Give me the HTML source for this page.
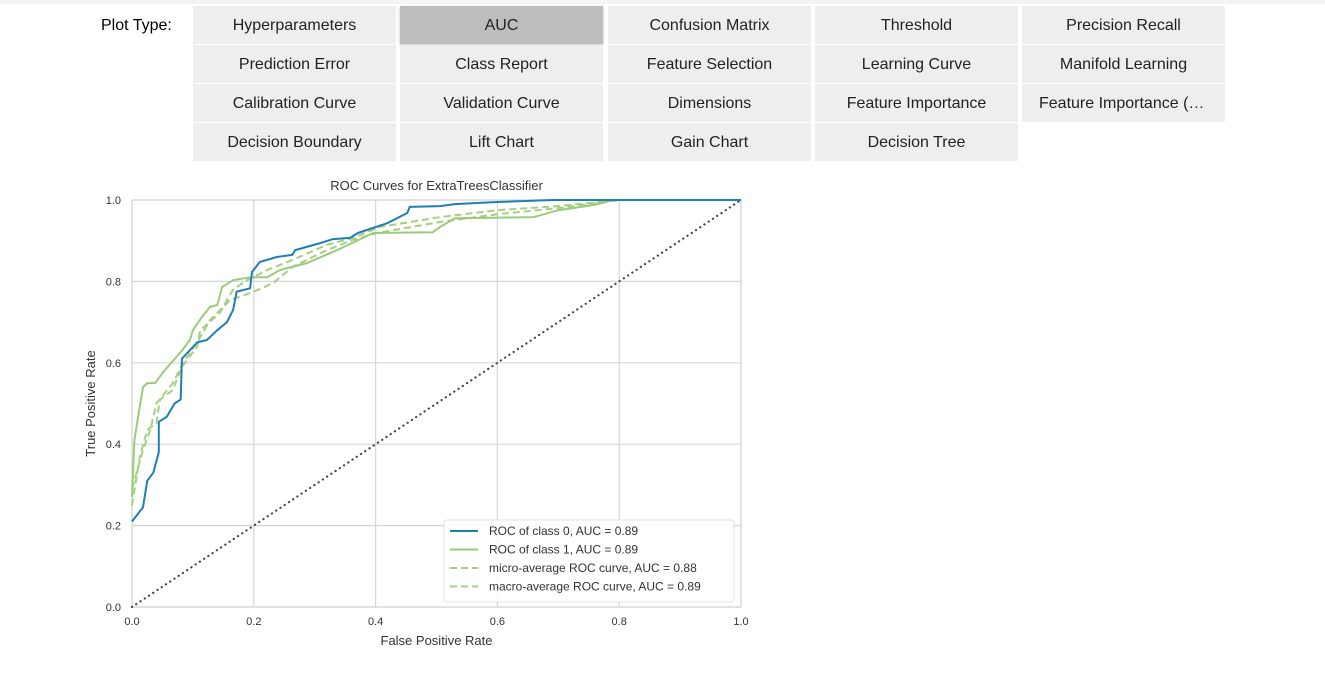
<!DOCTYPE html>
<html><head><meta charset="utf-8">
<style>
body{margin:0;background:#fff;font-family:"Liberation Sans",Arial,sans-serif;width:1325px;height:673px;overflow:hidden;position:relative}
.topbar{position:absolute;left:0;top:0;width:1325px;height:4px;background:#f4f4f4}
.label{position:absolute;left:101px;top:17px;font-size:16px;color:#000}
.btn{position:absolute;width:203px;height:38px;background:#eeeeee;color:#222;font-size:16px;text-align:center;line-height:40px;white-space:nowrap;overflow:hidden;text-overflow:ellipsis;box-sizing:border-box;padding:0 17px}
.btn.sel{background:#bdbdbd;box-shadow:0 1px 3px rgba(0,0,0,.25)}
svg{position:absolute;left:0;top:0}
</style></head><body>
<div class="topbar"></div>
<div class="label">Plot Type:</div>
<div id="btns"></div>
<svg id="chart" width="1325" height="673"></svg>
<script>
const buttons=[["Hyperparameters","AUC","Confusion Matrix","Threshold","Precision Recall"],
["Prediction Error","Class Report","Feature Selection","Learning Curve","Manifold Learning"],
["Calibration Curve","Validation Curve","Dimensions","Feature Importance","Feature Importance (All)"],
["Decision Boundary","Lift Chart","Gain Chart","Decision Tree",""]];
const colX=[193,400,608,815,1022], rowY=[6,45,84,123];
const bc=document.getElementById('btns');
buttons.forEach((row,r)=>row.forEach((t,c)=>{if(!t)return;
 const d=document.createElement('div');d.className='btn'+(t==='AUC'?' sel':'');
 d.style.left=colX[c]+'px';d.style.top=rowY[r]+'px';d.textContent=t;
 
 
 bc.appendChild(d);}));

// chart data
const fpr0=[0,0.018,0.025,0.035,0.044,0.044,0.057,0.07,0.08,0.082,0.107,0.123,0.14,0.156,0.166,0.172,0.194,0.197,0.21,0.238,0.263,0.268,0.309,0.33,0.358,0.371,0.419,0.452,0.456,0.506,0.53,0.6,0.69,1];
const tpr0=[0.21,0.245,0.31,0.33,0.38,0.455,0.467,0.5,0.51,0.61,0.65,0.656,0.68,0.7,0.73,0.775,0.783,0.823,0.848,0.86,0.865,0.877,0.894,0.904,0.907,0.919,0.943,0.968,0.983,0.985,0.99,0.995,1,1];
const fpr1=[0,0.004,0.01,0.018,0.025,0.038,0.051,0.082,0.095,0.1,0.115,0.128,0.14,0.148,0.166,0.194,0.222,0.243,0.287,0.337,0.396,0.494,0.506,0.53,0.66,0.7,0.76,0.79,1];
const tpr1=[0.27,0.41,0.467,0.54,0.55,0.55,0.577,0.63,0.656,0.68,0.713,0.737,0.742,0.786,0.803,0.81,0.81,0.828,0.845,0.877,0.919,0.921,0.934,0.955,0.958,0.975,0.988,1,1];
const fprMicro=[0,0.013,0.025,0.04,0.046,0.067,0.082,0.107,0.112,0.144,0.166,0.189,0.222,0.264,0.32,0.363,0.407,0.506,0.6,0.7,0.8,1];
const tprMicro=[0.25,0.37,0.435,0.452,0.51,0.533,0.59,0.64,0.68,0.722,0.78,0.803,0.828,0.853,0.89,0.907,0.934,0.958,0.975,0.985,1,1];
const fprMacro=[0,0.018,0.03,0.04,0.067,0.084,0.107,0.128,0.161,0.2,0.232,0.264,0.32,0.363,0.402,0.506,0.6,0.7,0.8,1];
const tprMacro=[0.29,0.386,0.435,0.5,0.55,0.6,0.65,0.705,0.754,0.775,0.796,0.836,0.877,0.902,0.919,0.946,0.965,0.98,1,1];
const xTicks=[0,0.2,0.4,0.6,0.8,1.0];
const yTicks=[0,0.2,0.4,0.6,0.8,1.0];
const seriesNames=["ROC of class 0, AUC = 0.89","ROC of class 1, AUC = 0.89","micro-average ROC curve, AUC = 0.88","macro-average ROC curve, AUC = 0.89"];

const L=132,R=741,T=200,B=607;
const sx=v=>L+(R-L)*v, sy=v=>B-(B-T)*v;
const svg=document.getElementById('chart'),NS='http://www.w3.org/2000/svg';
function el(tag,attrs,parent){const e=document.createElementNS(NS,tag);for(const k in attrs)e.setAttribute(k,attrs[k]);(parent||svg).appendChild(e);return e;}
function txt(s,attrs){const e=el('text',attrs);e.textContent=s;return e;}

const bg=el('rect',{x:L,y:T,width:R-L,height:B-T,fill:'#fff',stroke:'#d3d3d3','stroke-width':1.2});


xTicks.forEach(v=>{const g=el('line',{x1:sx(v),x2:sx(v),y1:T,y2:B,stroke:'#d6d6d6','stroke-width':1.2});
 
 
 const t=txt(v.toFixed(1),{x:sx(v),y:B+18,'font-size':11,'text-anchor':'middle',fill:'#333'});
 
 });
yTicks.forEach(v=>{const g=el('line',{x1:L,x2:R,y1:sy(v),y2:sy(v),stroke:'#d6d6d6','stroke-width':1.2});
 
 
 const t=txt(v.toFixed(1),{x:L-11,y:sy(v)+4,'font-size':11,'text-anchor':'end',fill:'#333'});
 
 });

const diag=el('line',{x1:sx(0),y1:sy(0),x2:sx(1),y2:sy(1),stroke:'#444','stroke-width':2.2,'stroke-dasharray':'0.1 5','stroke-linecap':'round'});



function curve(xs,ys,color,dash,name){const d=xs.map((x,i)=>(i?'L':'M')+sx(x).toFixed(1)+','+sy(ys[i]).toFixed(1)).join('');
 const p=el('path',{d:d,fill:'none',stroke:color,'stroke-width':2,'stroke-linejoin':'round'});if(dash)p.setAttribute('stroke-dasharray',dash);
 
 }
curve(fprMacro,tprMacro,'#a5d080','7 4','macro-average-curve');
curve(fprMicro,tprMicro,'#a5d080','7 4','micro-average-curve');
curve(fpr1,tpr1,'#9bcb7a',null,'class-1-curve');
curve(fpr0,tpr0,'#1f7fb5',null,'class-0-curve');

const title=txt('ROC Curves for ExtraTreesClassifier',{x:(L+R)/2,y:190,'font-size':13,'text-anchor':'middle',fill:'#333'});


const xl=txt('False Positive Rate',{x:(L+R)/2,y:645,'font-size':13,'text-anchor':'middle',fill:'#333'});


const yl=txt('True Positive Rate',{x:0,y:0,'font-size':13,'text-anchor':'middle',fill:'#333',transform:'translate(95,'+((T+B)/2)+') rotate(-90)'});



const lg=el('rect',{x:444,y:520,width:290,height:82,fill:'#fff','fill-opacity':0.9,stroke:'#e0e0e0',rx:3});


const lcol=['#1f7fb5','#9bcb7a','#a5d080','#a5d080'],ldash=[null,null,'7 4','7 4'];
seriesNames.forEach((n,i)=>{const y=531+i*18.5;
 const ln=el('line',{x1:450,x2:478,y1:y,y2:y,stroke:lcol[i],'stroke-width':2});if(ldash[i])ln.setAttribute('stroke-dasharray',ldash[i]);
 
 
 const t=txt(n,{x:489,y:y+4,'font-size':12,fill:'#333'});
 
 });
</script>
</body></html>
